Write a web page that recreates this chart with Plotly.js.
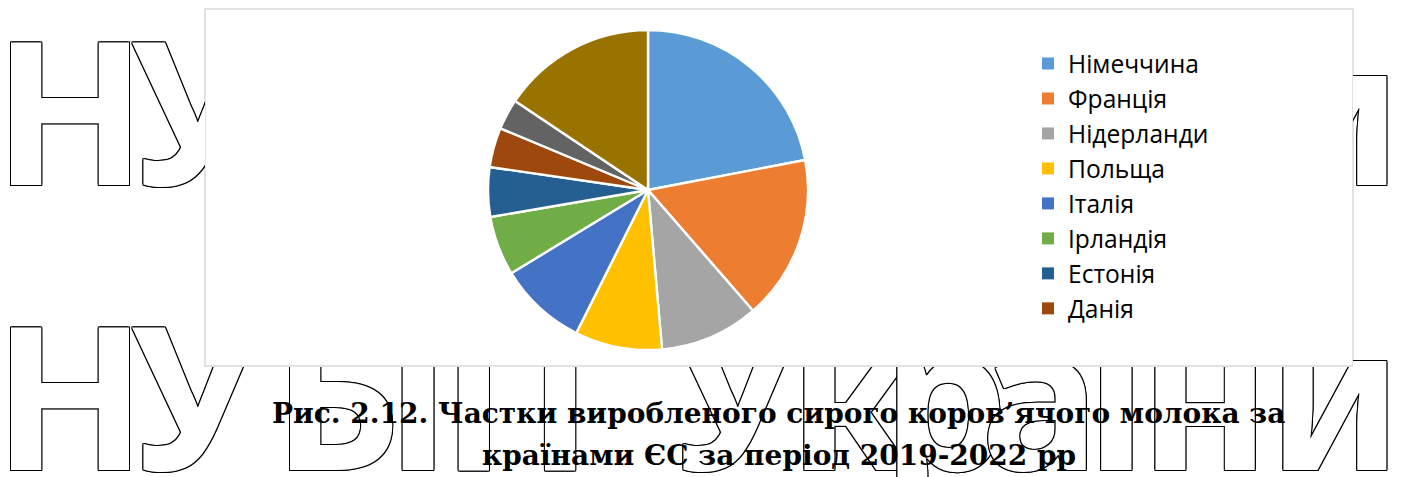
<!DOCTYPE html>
<html>
<head>
<meta charset="utf-8">
<script src="https://cdn.plot.ly/plotly-3.0.1.min.js"></script>
<style>
  html, body { margin: 0; padding: 0; background: #ffffff; }
  #chart { width: 1405px; height: 477px; }
</style>
</head>
<body>
<div id="chart"></div>
<script>
// ---- chart data ----
const countries = ['Німеччина', 'Франція', 'Нідерланди', 'Польща', 'Італія',
                   'Ірландія', 'Естонія', 'Данія', 'Бельгія', 'Інші'];
const shares = [22.0, 16.6, 10.0, 8.8, 8.9, 6.0, 5.0, 4.0, 3.1, 15.6];
const sliceColors = ['#5B9BD5', '#ED7D31', '#A5A5A5', '#FFC000', '#4472C4',
                     '#70AD47', '#255E91', '#9E480E', '#636363', '#997300'];
const legendShown = 8;   // only the first 8 entries are visible in the legend

// ---- caption ----
const captionLines = [
  '<b>Рис. 2.12. Частки виробленого сирого коров’ячого молока за</b>',
  '<b>країнами ЄС за період 2019-2022 рр</b>'
];

// ---- background watermark (outlined letters) ----
const wmLetters = ['Н', 'У', 'Б', 'І', 'П', 'У', 'к', 'р', 'а', 'ї', 'н', 'и'];
const wmX = [70, 195, 337, 418, 517, 735, 850, 945, 1040, 1115, 1205, 1335];
const wmRowsY = [135, 420];

const W = 1405, H = 477;
const outline = '1px 0 0 #000, -1px 0 0 #000, 0 1px 0 #000, 0 -1px 0 #000, ' +
                '1px 1px 0 #000, -1px -1px 0 #000, 1px -1px 0 #000, -1px 1px 0 #000';

// visible strips around the chart box (pixel ranges)
const strips = [
  {xa: 'x',  ya: 'y',  xr: [0, 205],    rows: [0, 1]},
  {xa: 'x2', ya: 'y2', xr: [1353, 1405], rows: [0, 1]},
  {xa: 'x3', ya: 'y3', xr: [205, 1353],  rows: [1]}
];
const traces = [];
strips.forEach(s => {
  const idx = wmX.map((x, i) => i).filter(i => wmX[i] + 62 > s.xr[0] && wmX[i] - 62 < s.xr[1]);
  s.rows.forEach(r => {
    traces.push({
      type: 'scatter', mode: 'text',
      x: idx.map(i => wmX[i]), y: idx.map(() => wmRowsY[r]), text: idx.map(i => wmLetters[i]),
      xaxis: s.xa, yaxis: s.ya,
      textposition: 'middle center',
      textfont: {family: 'Noto Sans', weight: 700, size: 200, color: '#ffffff', shadow: outline},
      cliponaxis: true, hoverinfo: 'skip', showlegend: false
    });
  });
});

// legend-only pie (tiny, hidden under the centre of the main pie)
const pcx = 648 / W, pcy = 1 - 190 / H, pr = 160;
traces.push({
  type: 'pie',
  labels: countries.slice(0, legendShown),
  values: shares.slice(0, legendShown),
  marker: {colors: sliceColors.slice(0, legendShown)},
  sort: false, direction: 'clockwise', rotation: 0,
  textinfo: 'none', hoverinfo: 'skip',
  domain: {x: [pcx - 0.0004, pcx + 0.0004], y: [pcy - 0.001, pcy + 0.001]},
  showlegend: true
});
// main pie
traces.push({
  type: 'pie',
  labels: countries,
  values: shares,
  marker: {colors: sliceColors, line: {color: '#ffffff', width: 2.4}},
  sort: false, direction: 'clockwise', rotation: 0,
  textinfo: 'none', hoverinfo: 'label+percent',
  domain: {x: [(648 - pr) / W, (648 + pr) / W], y: [1 - (190 + pr) / H, 1 - (190 - pr) / H]},
  showlegend: false
});

const hiddenAxis = (range, domain) => ({
  range: range, domain: domain, visible: false, fixedrange: true,
  showgrid: false, zeroline: false
});

const layout = {
  width: W, height: H,
  margin: {l: 0, r: 0, t: 0, b: 0, pad: 0},
  paper_bgcolor: '#ffffff',
  plot_bgcolor: 'rgba(0,0,0,0)',
  xaxis:  hiddenAxis([0, 205], [0, 205 / W]),
  yaxis:  hiddenAxis([H, 0], [0, 1]),
  xaxis2: hiddenAxis([1353, W], [1353 / W, 1]),
  yaxis2: hiddenAxis([H, 0], [0, 1]),
  xaxis3: hiddenAxis([205, 1353], [205 / W, 1353 / W]),
  yaxis3: hiddenAxis([H, 367], [0, (H - 367) / H]),
  showlegend: true,
  legend: {
    x: 1028 / W, xanchor: 'left',
    y: 1 - 41 / H, yanchor: 'top',
    font: {family: 'Open Sans', size: 24.6, color: '#000000'},
    bgcolor: 'rgba(0,0,0,0)', borderwidth: 0,
    traceorder: 'normal', itemclick: false, itemdoubleclick: false
  },
  shapes: [{
    type: 'rect', xref: 'paper', yref: 'paper', layer: 'below',
    x0: 205 / W, x1: 1353 / W, y0: 1 - 366 / H, y1: 1 - 9 / H,
    line: {color: '#d9d9d9', width: 1.5}, fillcolor: '#ffffff'
  }],
  annotations: captionLines.map((t, i) => ({
    text: t, xref: 'paper', yref: 'paper',
    x: 779 / W, y: 1 - (413 + i * 42) / H,
    xanchor: 'center', yanchor: 'middle', showarrow: false,
    font: {family: 'DejaVu Serif', size: 28, color: '#000000'}
  }))
};

Plotly.newPlot('chart', traces, layout, {staticPlot: true, displayModeBar: false});
</script>
</body>
</html>
